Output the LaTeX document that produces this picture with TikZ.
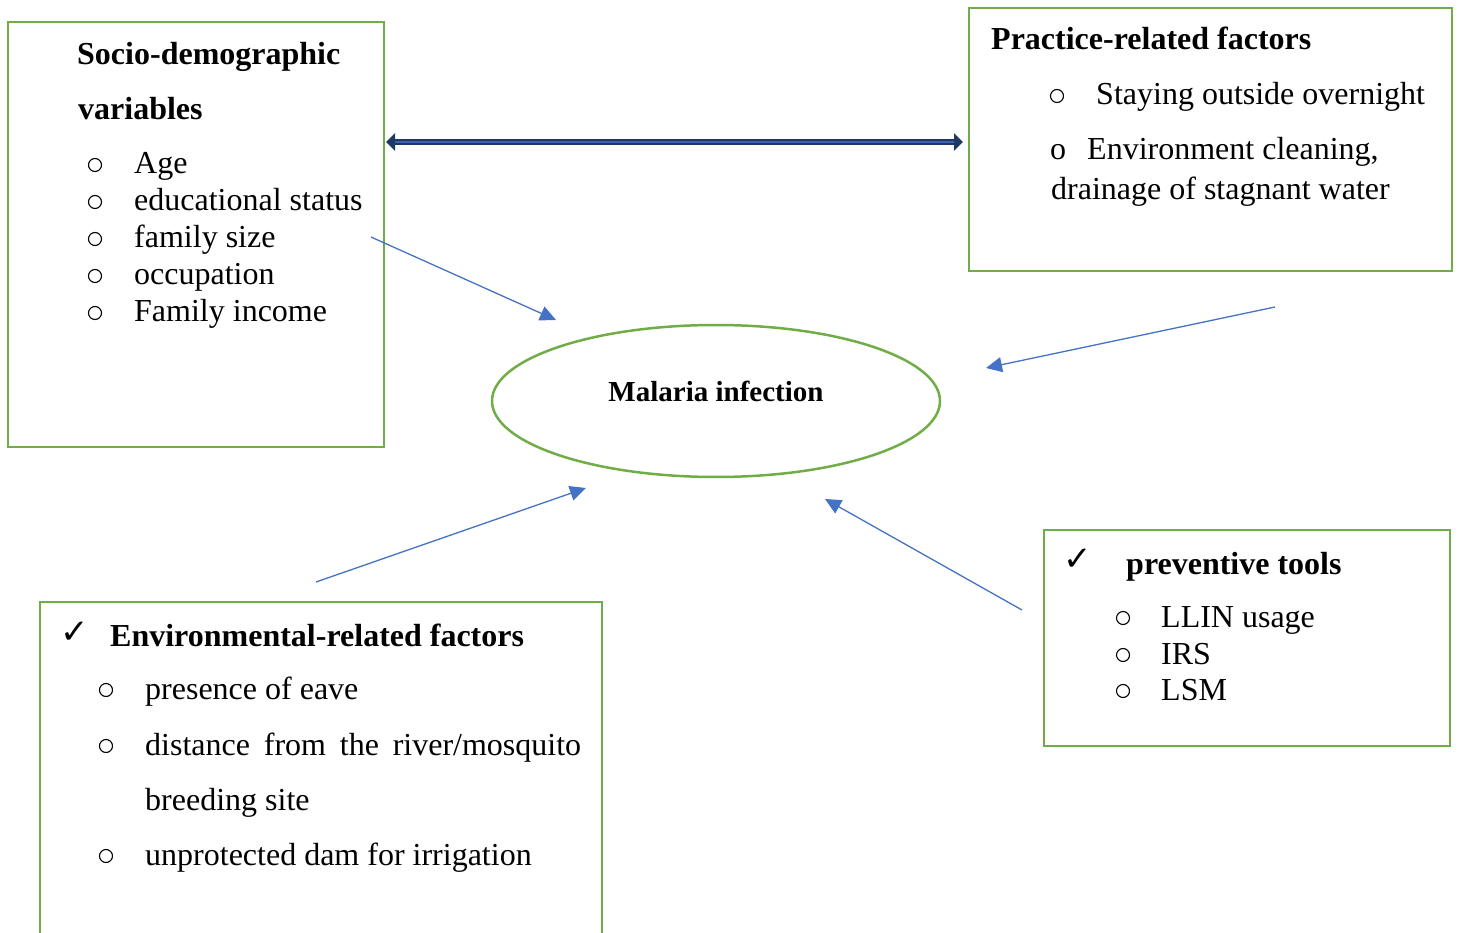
\documentclass[tikz,border=0pt]{standalone}
\usepackage{fontspec}
\setmainfont{Liberation Serif}
\newfontfamily\checkfont{DejaVu Sans}
\usetikzlibrary{arrows.meta,shapes.geometric}
\definecolor{boxgreen}{HTML}{70AD47}
\definecolor{arrowblue}{HTML}{4472C4}
\definecolor{navy}{HTML}{1F3864}
\definecolor{innerblue}{HTML}{3A64B0}
\begin{document}
\begin{tikzpicture}[x=1pt,y=-1pt,
  frame/.style={draw=boxgreen,line width=2.5pt},
  txt/.style={inner sep=0pt,anchor=base west,font=\fontsize{32}{38}\selectfont},
  hd/.style={txt,font=\fontsize{32}{38}\selectfont\bfseries},
  bul/.style={circle,draw=black,line width=1.1pt,minimum size=13pt,inner sep=0pt},
  chk/.style={txt,font=\fontsize{34}{38}\selectfont\checkfont},
  link/.style={draw=arrowblue,line width=1.3pt,-{Triangle[length=16pt,width=15pt]}}]
\useasboundingbox (0,0) rectangle (1460,933);
% boxes
\draw[frame] (8,22) rectangle (384,447);
\draw[frame] (969,8) rectangle (1452,271);
\draw[frame] (40,602) rectangle (602,950);
\draw[frame] (1044,530) rectangle (1450,746);
\node[draw=boxgreen,line width=2.5pt,ellipse,minimum width=448pt,minimum height=152pt,inner sep=0pt] (mal) at (716,401) {};
\node[hd,anchor=base,font=\fontsize{29}{34}\selectfont\bfseries] (maltxt) at (716,402) {Malaria infection};
% socio-demographic
\node[hd] (s1) at (77,65) {Socio-demographic};
\node[hd] (s2) at (78,120) {variables};
\foreach \y/\t [count=\i] in {174/Age,211/educational status,248/family size,285/occupation,322/Family income}{
  \node[bul] (sb\i) at (95,\y-9) {};
  \node[txt] (st\i) at (134,\y) {\t};
}
% practice
\node[hd] (p1) at (991,50) {Practice-related factors};
\node[bul] (pb1) at (1057,96) {};
\node[txt] (pt1) at (1096,105) {Staying outside overnight};
\node[txt] (pb2) at (1050,160) {o};
\node[txt] (pt2) at (1087,160) {Environment cleaning,};
\node[txt] (pt3) at (1051,200) {drainage of stagnant water};
% environmental
\node[chk] (ec) at (60,643) {✓};
\node[hd] (e1) at (110,646) {Environmental-related factors};
\node[bul] (eb1) at (106,690) {};
\node[txt] (et1) at (145,699) {presence of eave};
\node[bul] (eb2) at (106,746) {};
\node[txt] (et2) at (145,755) {\makebox[436pt][s]{distance from the river/mosquito}};
\node[txt] (et3) at (145,810) {breeding site};
\node[bul] (eb3) at (106,856) {};
\node[txt] (et4) at (145,865) {unprotected dam for irrigation};
% preventive
\node[chk] (pc) at (1063,570) {✓};
\node[hd] (v1) at (1126,574) {preventive tools};
\foreach \y/\t [count=\i] in {627/LLIN usage,664/IRS,700/LSM}{
  \node[bul] (vb\i) at (1123,\y-9) {};
  \node[txt] (vt\i) at (1161,\y) {\t};
}
% double arrow
\coordinate (da) at (386,142);
\coordinate (db) at (963,142);
\draw[navy,line width=6pt,{Triangle[length=9pt,width=17pt]}-{Triangle[length=9pt,width=17pt]}] (da) -- (db);
\draw[innerblue,line width=2pt,shorten <=9pt,shorten >=9pt] (da) -- (db);
% blue arrows
\coordinate (a1s) at (371,237); \coordinate (a1e) at (556,320);
\coordinate (a2s) at (1275,307); \coordinate (a2e) at (986,368);
\coordinate (a3s) at (316,582); \coordinate (a3e) at (586,488);
\coordinate (a4s) at (1022,610); \coordinate (a4e) at (825,499);
\draw[link] (a1s) -- (a1e);
\draw[link] (a2s) -- (a2e);
\draw[link] (a3s) -- (a3e);
\draw[link] (a4s) -- (a4e);
\end{tikzpicture}
\end{document}
